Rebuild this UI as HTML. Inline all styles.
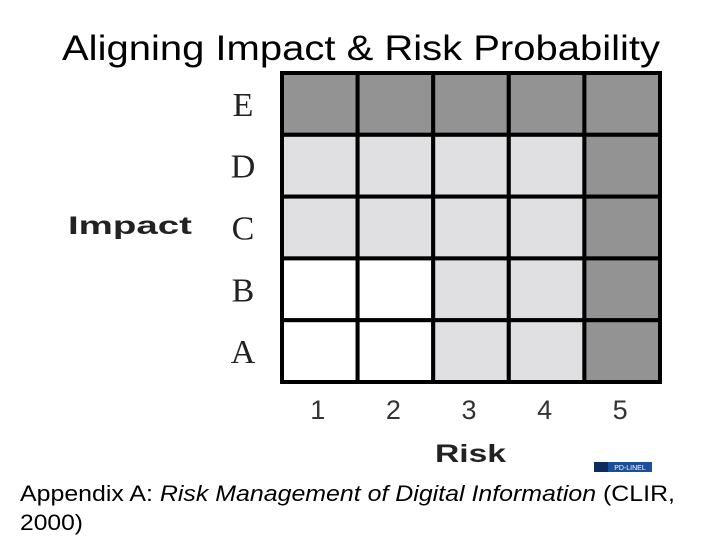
<!DOCTYPE html>
<html><head><meta charset="utf-8"><style>
body{margin:0;background:#fff;width:720px;height:540px;overflow:hidden;font-family:"Liberation Sans",sans-serif}
</style></head><body>
<svg width="720" height="540" xmlns="http://www.w3.org/2000/svg">
<text x="62" y="60" font-size="35" textLength="598" lengthAdjust="spacingAndGlyphs" font-family="Liberation Sans">Aligning Impact &amp; Risk Probability</text>
<g id="grid"></g>
<text x="68" y="234" font-size="25" font-weight="bold" fill="#222" textLength="124" lengthAdjust="spacingAndGlyphs" font-family="Liberation Sans">Impact</text>
<text x="435" y="462" font-size="25" font-weight="bold" fill="#222" textLength="71" lengthAdjust="spacingAndGlyphs" font-family="Liberation Sans">Risk</text>
<g><rect x="594" y="462" width="58" height="10" fill="#1a4f9c"/><rect x="594" y="462" width="14" height="10" fill="#0d2c5e"/><text x="630" y="470" text-anchor="middle" font-size="7" fill="#fff">PD-LINEL</text></g>
<text x="20" y="501" font-size="22" textLength="655" lengthAdjust="spacingAndGlyphs" font-family="Liberation Sans">Appendix A: <tspan font-style="italic">Risk Management of Digital Information</tspan> (CLIR,</text>
<text x="20" y="530" font-size="22" textLength="63" lengthAdjust="spacingAndGlyphs" font-family="Liberation Sans">2000)</text>
</svg>
<script>
const impactLabels=["E","D","C","B","A"];
const riskLabels=["1","2","3","4","5"];
const levelE=[2,2,2,2,2];
const levelD=[1,1,1,1,2];
const levelC=[1,1,1,1,2];
const levelB=[0,0,1,1,2];
const levelA=[0,0,1,1,2];
const levels=[levelE,levelD,levelC,levelB,levelA];
const colors=["#ffffff","#e0dfe2","#939393"];
const NS="http://www.w3.org/2000/svg";
const g=document.getElementById('grid');
const x0=282,x1=660,y0=73,y1=382;
const cw=(x1-x0)/riskLabels.length, rh=(y1-y0)/impactLabels.length;
function xs(i){return x0+i*cw;} function ys(j){return y0+j*rh;}
function mk(t,a){const e=document.createElementNS(NS,t);for(const k in a)e.setAttribute(k,a[k]);g.appendChild(e);return e;}
levels.forEach((row,j)=>row.forEach((v,i)=>{
 const r=mk('rect',{x:xs(i),y:ys(j),width:cw,height:rh,fill:colors[v],stroke:'#000','stroke-width':4});
 
 
}));
impactLabels.forEach((l,j)=>{
 const t=mk('text',{x:243,y:ys(j)+rh/2+12,'text-anchor':'middle','font-size':34,'font-family':'Liberation Serif',fill:'#222'});
 t.textContent=l;
 
 
});
riskLabels.forEach((l,i)=>{
 const t=mk('text',{x:xs(i)+cw/2-2,y:419,'text-anchor':'middle','font-size':27,'font-family':'Liberation Sans',fill:'#333'});
 t.textContent=l;
 
 
});
</script>
</body></html>
